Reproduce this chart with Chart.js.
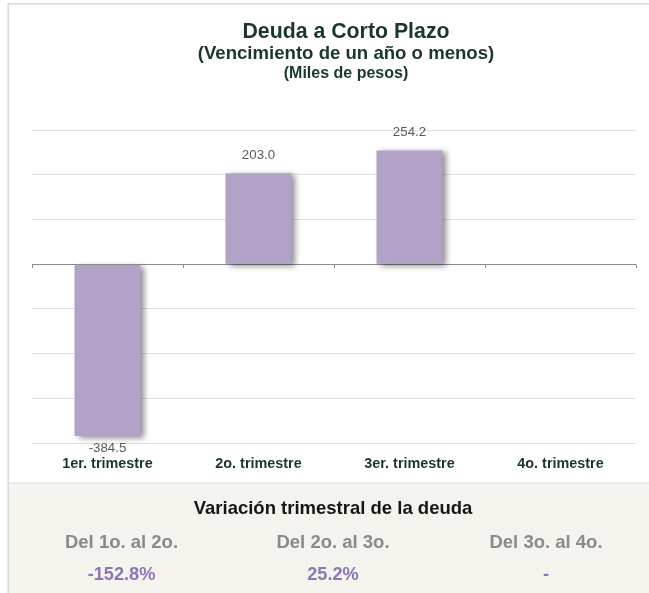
<!DOCTYPE html>
<html>
<head>
<meta charset="utf-8">
<script src="https://cdn.jsdelivr.net/npm/chart.js@4/dist/chart.umd.min.js"></script>
<style>
  html, body { margin: 0; padding: 0; background: #fff; }
  body { width: 649px; height: 593px; overflow: hidden; }
  canvas { display: block; }
</style>
</head>
<body>
<canvas id="c" width="649" height="593"></canvas>
<script>
const categories = ['1er. trimestre', '2o. trimestre', '3er. trimestre', '4o. trimestre'];
const debtValues = [-384.5, 203.0, 254.2, null];
const titleLines = ['Deuda a Corto Plazo', '(Vencimiento de un año o menos)', '(Miles de pesos)'];
const panelTitle = 'Variación trimestral de la deuda';
const periodLabels = ['Del 1o. al 2o.', 'Del 2o. al 3o.', 'Del 3o. al 4o.'];
const variationLabels = ['-152.8%', '25.2%', '-'];

const FONT = '"Liberation Sans", Arial, Helvetica, sans-serif';

const framePlugin = {
  id: 'frame',
  beforeDraw(chart) {
    const ctx = chart.ctx;
    ctx.save();
    ctx.fillStyle = '#ffffff';
    ctx.fillRect(0, 0, chart.width, chart.height);
    ctx.fillStyle = '#f4f3ee';
    ctx.fillRect(9, 484, chart.width - 9, chart.height - 484);
    ctx.fillStyle = '#e6e6e4';
    ctx.fillRect(9, 482.5, chart.width - 9, 1.5);
    ctx.fillStyle = '#d9d9d9';
    ctx.fillRect(7.5, 3, 1.5, chart.height - 3);
    ctx.fillRect(7.5, 3, chart.width - 7.5, 1.5);
    ctx.restore();
  },
  afterDraw(chart) {
    const ctx = chart.ctx;
    ctx.save();
    ctx.textAlign = 'center';
    ctx.textBaseline = 'alphabetic';
    ctx.fillStyle = '#1b3630';
    ctx.font = 'bold 21.3px ' + FONT;
    ctx.fillText(titleLines[0], 346, 37.5);
    ctx.font = 'bold 18.6px ' + FONT;
    ctx.fillText(titleLines[1], 346, 59);
    ctx.font = 'bold 16px ' + FONT;
    ctx.fillText(titleLines[2], 346, 77.5);

    ctx.fillStyle = '#161616';
    ctx.font = 'bold 18.5px ' + FONT;
    ctx.fillText(panelTitle, 333, 513.5);
    const xs = [121.5, 333, 546];
    ctx.fillStyle = '#8a8a8a';
    periodLabels.forEach((l, i) => ctx.fillText(l, xs[i], 548));
    ctx.fillStyle = '#8e76b6';
    ctx.font = 'bold 18.2px ' + FONT;
    variationLabels.forEach((l, i) => ctx.fillText(l, xs[i], 580));
    ctx.restore();
  }
};

const shadowPlugin = {
  id: 'shadow',
  beforeDatasetDraw(chart) {
    const ctx = chart.ctx;
    ctx.save();
    ctx.shadowColor = 'rgba(0,0,0,0.45)';
    ctx.shadowBlur = 6;
    ctx.shadowOffsetX = 4;
    ctx.shadowOffsetY = 2;
  },
  afterDatasetDraw(chart) { chart.ctx.restore(); }
};

const zeroLinePlugin = {
  id: 'zeroLine',
  beforeDatasetsDraw(chart) {
    const ctx = chart.ctx, y = Math.round(chart.scales.y.getPixelForValue(0));
    const area = chart.chartArea;
    ctx.save();
    ctx.strokeStyle = '#8a8a8a';
    ctx.lineWidth = 1;
    ctx.beginPath();
    ctx.moveTo(area.left, y + 0.5);
    ctx.lineTo(area.right, y + 0.5);
    const n = categories.length, w = (area.right - area.left) / n;
    for (let i = 0; i <= n; i++) {
      const xx = Math.round(area.left + i * w) + 0.5;
      ctx.moveTo(xx, y + 0.5);
      ctx.lineTo(xx, y + 4);
    }
    ctx.stroke();
    ctx.restore();
  }
};

const valueLabelPlugin = {
  id: 'valueLabels',
  afterDatasetsDraw(chart) {
    const ctx = chart.ctx;
    const meta = chart.getDatasetMeta(0);
    ctx.save();
    ctx.font = '13.3px ' + FONT;
    ctx.fillStyle = '#595959';
    ctx.textAlign = 'center';
    ctx.textBaseline = 'alphabetic';
    meta.data.forEach((bar, i) => {
      const v = debtValues[i];
      if (v === null || v === undefined) return;
      const txt = v.toFixed(1);
      if (v >= 0) ctx.fillText(txt, bar.x, bar.y - 14.5);
      else ctx.fillText(txt, bar.x, bar.y + 16);
    });
    ctx.restore();
  }
};

new Chart(document.getElementById('c'), {
  type: 'bar',
  data: {
    labels: categories,
    datasets: [{
      data: debtValues,
      backgroundColor: '#b3a2c8',
      borderWidth: 0,
      categoryPercentage: 1,
      barPercentage: 0.437
    }]
  },
  options: {
    responsive: false,
    animation: false,
    devicePixelRatio: 1,
    layout: { padding: { left: 32, right: 13, top: 130, bottom: 110 } },
    plugins: { legend: { display: false }, tooltip: { enabled: false }, title: { display: false } },
    scales: {
      x: {
        grid: { display: false, drawTicks: false },
        border: { display: false },
        afterFit(scale) { scale.height = 40; },
        ticks: { padding: 12, color: '#1b3630', maxRotation: 0, autoSkip: false,
                 font: { family: FONT, size: 14.4, weight: 'bold' } }
      },
      y: {
        min: -400, max: 300,
        ticks: { display: false, stepSize: 100 },
        border: { display: false },
        grid: { color: (c) => c.tick && c.tick.value === 0 ? 'rgba(0,0,0,0)' : '#dfdfdf', drawTicks: false }
      }
    }
  },
  plugins: [framePlugin, shadowPlugin, zeroLinePlugin, valueLabelPlugin]
});
</script>
</body>
</html>
